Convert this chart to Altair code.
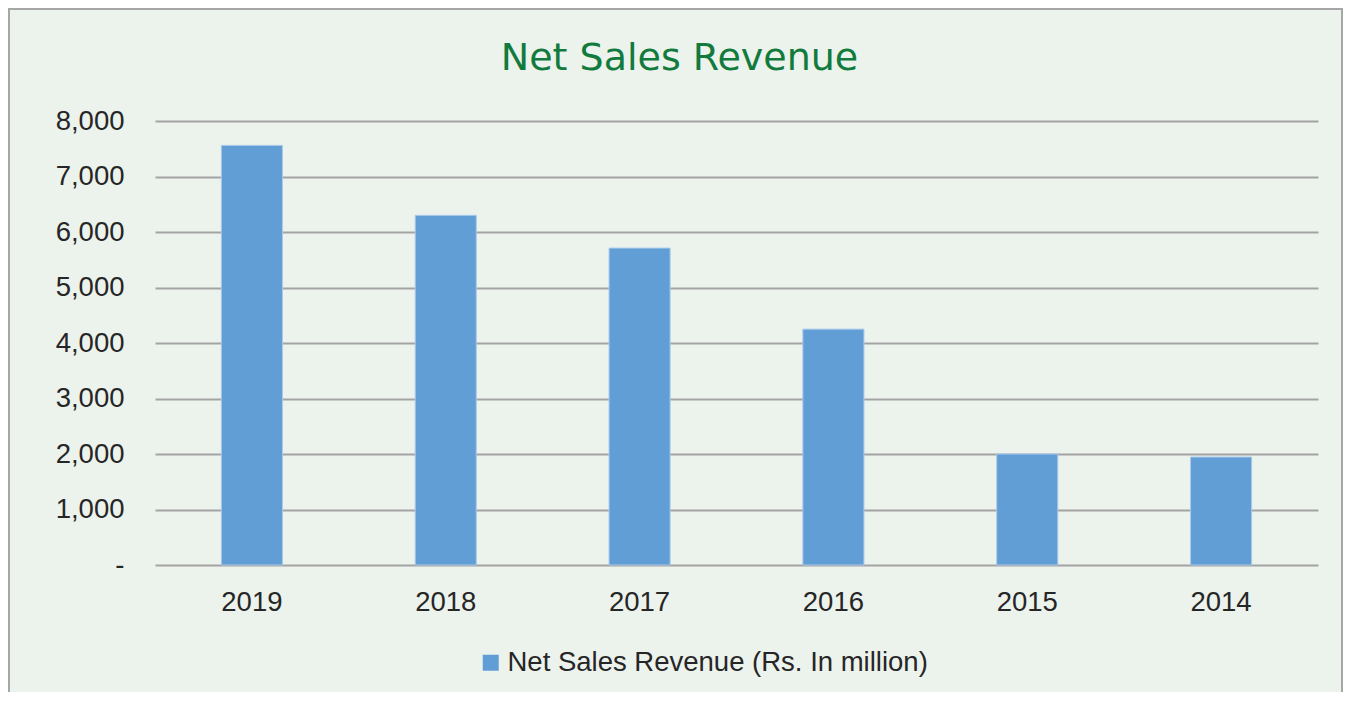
import altair as alt
import pandas as pd

years = ["2019", "2018", "2017", "2016", "2015", "2014"]
revenue = [7560, 6300, 5710, 4250, 2000, 1945]
series_name = "Net Sales Revenue (Rs. In million)"
y_ticks = [0, 1000, 2000, 3000, 4000, 5000, 6000, 7000, 8000]

df = pd.DataFrame({"year": years, "revenue": revenue, "series": [series_name] * len(years)})

W, H = 1163, 444
PL, PT, PR, PB = 147, 113, 25, 127

FONT = "Liberation Sans"
TXT = "#262626"
BG = "#ECF2EC"
GRID = "#A3A3A3"
BAR = "#629ED6"

bars = alt.Chart(df).mark_bar(stroke="#A8C9EA", strokeWidth=1).encode(
    x=alt.X("year:N", sort=years,
            scale=alt.Scale(paddingInner=0.685, paddingOuter=0.3425),
            axis=alt.Axis(title=None, labelAngle=0, domain=False, ticks=False,
                          labelPadding=23, labelFont=FONT, labelFontSize=27.5,
                          labelColor=TXT, grid=False)),
    y=alt.Y("revenue:Q", scale=alt.Scale(domain=[0, 8000], nice=False),
            axis=alt.Axis(title=None, values=y_ticks, format=",",
                          labelExpr="datum.value == 0 ? '-' : format(datum.value, ',')",
                          grid=True, gridColor=GRID, gridWidth=2, domain=False,
                          ticks=False, labelPadding=31, labelFont=FONT,
                          labelFontSize=27.5, labelColor=TXT)),
    color=alt.Color("series:N", scale=alt.Scale(range=[BAR]),
                    legend=alt.Legend(title=None, orient="none", legendX=322, legendY=528,
                                      symbolType="square", symbolSize=256,
                                      symbolStrokeWidth=0, labelFont=FONT,
                                      labelFontSize=27.5, labelColor=TXT,
                                      labelOffset=3, labelLimit=0, padding=0)),
)

frame = alt.Chart(pd.DataFrame({"a": [0]})).mark_rect(
    filled=False, stroke="#A6A6A6", strokeWidth=2, fillOpacity=0
).encode(
    x=alt.value(-PL + 1), x2=alt.value(W + PR - 1),
    y=alt.value(-PT + 1), y2=alt.value(H + PB + 20),
)

chart = alt.layer(frame, bars).properties(
    width=W, height=H,
    padding={"left": PL, "top": PT, "right": PR, "bottom": PB},
    autosize=alt.AutoSizeParams(type="none"),
    background=BG,
    title=alt.TitleParams("Net Sales Revenue", font="DejaVu Sans", fontSize=38,
                          fontWeight="normal", color="#117A3D", anchor="middle",
                          frame="group", dx=-57, offset=0, dy=100, baseline="alphabetic"),
).configure_view(strokeWidth=0)

chart.save("out.html", embed_options={"renderer": "svg", "actions": False})
